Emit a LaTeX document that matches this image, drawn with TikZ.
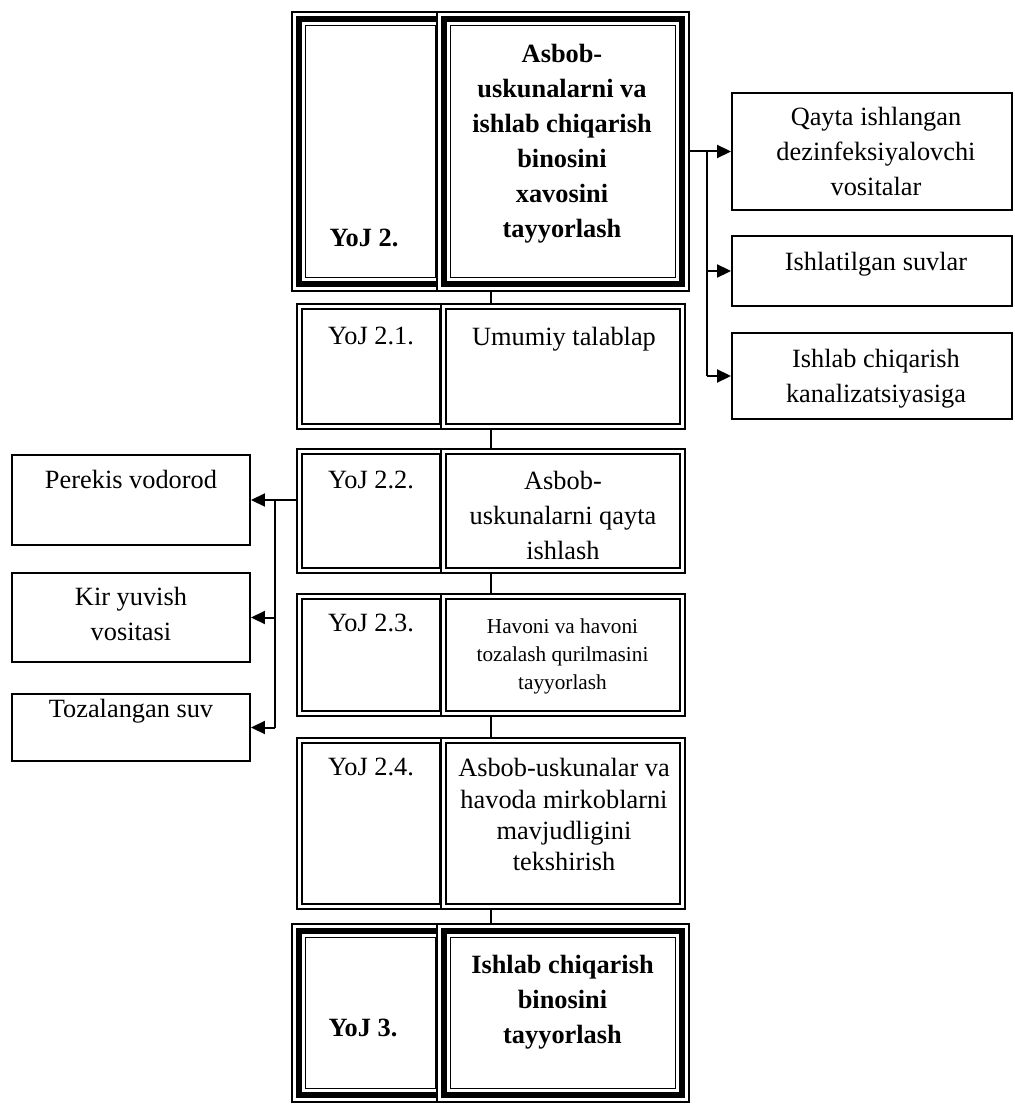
\documentclass[tikz,border=0pt]{standalone}
\usepackage{fontspec}
\setmainfont{Liberation Serif}
\usetikzlibrary{arrows.meta}

\tikzset{
  cell/.style={draw, double, line width=0.04cm, double distance=0.05cm, inner sep=0pt, outer sep=0.065cm},
  bigcell/.style={draw, line width=0.12cm, inner sep=0pt, outer sep=0.15cm,
    preaction={draw, double, line width=0.03cm, double distance=0.24cm}},
  side/.style={draw, line width=0.04cm, inner sep=0pt},
  txt/.style={anchor=north, inner sep=0pt, align=center, font=\fontsize{15pt}{19.9pt}\selectfont},
  btxt/.style={txt, font=\fontsize{15pt}{19.9pt}\selectfont\bfseries},
  arr/.style={line width=0.04cm, -{Triangle[length=0.28cm,width=0.26cm]}},
  wire/.style={line width=0.04cm},
  link/.style={line width=0.03cm}
}

\begin{document}
\begin{tikzpicture}[x=0.02cm,y=-0.02cm]
\useasboundingbox (0,0) rectangle (1014,1104);

\node[bigcell, minimum width=2.88cm, minimum height=5.32cm] (t2L) at (370.5,151.5) {};
\node[bigcell, minimum width=4.78cm, minimum height=5.32cm] (t2R) at (563,151.5) {};
\node[btxt] (t2Lt) at (364,229) {YoJ 2.};
\node[btxt] (t2Rt) at (562,44) {Asbob-\\uskunalarni va\\ishlab chiqarish\\binosini\\xavosini\\tayyorlash};

\node[cell, minimum width=2.87cm, minimum height=2.41cm] (c21L) at (371,366.5) {};
\node[cell, minimum width=4.79cm, minimum height=2.41cm] (c21R) at (563,366.5) {};
\node[txt] (c21Lt) at (371,327) {YoJ 2.1.};
\node[txt] (c21Rt) at (564,327) {Umumiy talablap};

\node[cell, minimum width=2.87cm, minimum height=2.39cm] (c22L) at (371,511) {};
\node[cell, minimum width=4.79cm, minimum height=2.39cm] (c22R) at (563,511) {};
\node[txt] (c22Lt) at (371,471) {YoJ 2.2.};
\node[txt] (c22Rt) at (563,471) {Asbob-\\uskunalarni qayta\\ishlash};

\node[cell, minimum width=2.87cm, minimum height=2.35cm] (c23L) at (371,655) {};
\node[cell, minimum width=4.79cm, minimum height=2.35cm] (c23R) at (563,655) {};
\node[txt] (c23Lt) at (371,614) {YoJ 2.3.};
\node[txt, font=\fontsize{12.1pt}{15.9pt}\selectfont] (c23Rt) at (562.5,618.5) {Havoni va havoni\\tozalash qurilmasini\\tayyorlash};

\node[cell, minimum width=2.87cm, minimum height=3.33cm] (c24L) at (371,823.5) {};
\node[cell, minimum width=4.79cm, minimum height=3.33cm] (c24R) at (563,823.5) {};
\node[txt] (c24Lt) at (371,758) {YoJ 2.4.};
\node[txt, font=\fontsize{15pt}{17.9pt}\selectfont] (c24Rt) at (564,758) {Asbob-uskunalar va\\havoda mirkoblarni\\mavjudligini\\tekshirish};

\node[bigcell, minimum width=2.88cm, minimum height=3.3cm] (t3L) at (370.5,1013) {};
\node[bigcell, minimum width=4.78cm, minimum height=3.3cm] (t3R) at (563,1013) {};
\node[btxt] (t3Lt) at (363,1019) {YoJ 3.};
\node[btxt] (t3Rt) at (562.5,955) {Ishlab chiqarish\\binosini\\tayyorlash};

\node[side, minimum width=5.6cm, minimum height=2.36cm] (r1) at (872,151.5) {};
\node[side, minimum width=5.6cm, minimum height=1.4cm] (r2) at (872,271) {};
\node[side, minimum width=5.6cm, minimum height=1.72cm] (r3) at (872,376) {};
\node[txt] (r1t) at (876,107) {Qayta ishlangan\\dezinfeksiyalovchi\\vositalar};
\node[txt] (r2t) at (876,252) {Ishlatilgan suvlar};
\node[txt] (r3t) at (876,349) {Ishlab chiqarish\\kanalizatsiyasiga};

\node[side, minimum width=4.76cm, minimum height=1.8cm] (l1) at (131,500) {};
\node[side, minimum width=4.76cm, minimum height=1.78cm] (l2) at (131,617.5) {};
\node[side, minimum width=4.76cm, minimum height=1.34cm] (l3) at (131,727.5) {};
\node[txt] (l1t) at (131,470) {Perekis vodorod};
\node[txt] (l2t) at (131,587) {Kir yuvish\\vositasi};
\node[txt] (l3t) at (131,699) {Tozalangan suv};

\draw[link] ([xshift=-1.44cm]t2R.south) -- ([xshift=-1.44cm]c21R.north);
\draw[link] ([xshift=-1.44cm]c21R.south) -- ([xshift=-1.44cm]c22R.north);
\draw[link] ([xshift=-1.44cm]c22R.south) -- ([xshift=-1.44cm]c23R.north);
\draw[link] ([xshift=-1.44cm]c23R.south) -- ([xshift=-1.44cm]c24R.north);
\draw[link] ([xshift=-1.44cm]c24R.south) -- ([xshift=-1.44cm]t3R.north);

\coordinate (rbus) at (707,151.5);
\draw[arr] (t2R.east) -- (r1.west);
\draw[wire] (rbus) -- (rbus |- r3.west);
\draw[arr] (rbus |- r2.west) -- (r2.west);
\draw[arr] (rbus |- r3.west) -- (r3.west);

\coordinate (lbus) at (275,500);
\draw[arr] (c22L.west |- l1.east) -- (l1.east);
\draw[wire] (lbus) -- (lbus |- l3.east);
\draw[arr] (lbus |- l2.east) -- (l2.east);
\draw[arr] (lbus |- l3.east) -- (l3.east);
\end{tikzpicture}
\end{document}
